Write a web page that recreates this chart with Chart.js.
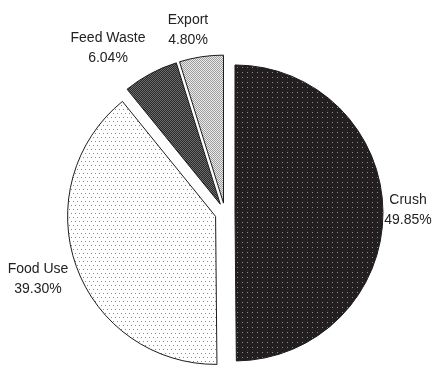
<!DOCTYPE html>
<html lang="en">
<head>
  <meta charset="UTF-8">
  <title>Usage pie</title>
  <script src="https://cdn.jsdelivr.net/npm/chart.js"></script>
  <style>
    html, body { margin: 0; padding: 0; background: #fff; }
    #wrap { width: 436px; height: 365px; }
  </style>
</head>
<body>
  <div id="wrap"><canvas id="pieChart" width="436" height="365"></canvas></div>

  <script>
    // data
    const categories = ['Crush', 'Food Use', 'Feed Waste', 'Export'];
    const shares = [49.85, 39.30, 6.04, 4.80];

    // label boxes, relative to the pie centre (x, y of first line)
    const labelOffsets = [
      [183, -13], [-187, 56], [-117, -175], [-37, -193]
    ];
    const explode = 10;

    function makePattern(size, bg, dots, dotColor) {
      const c = document.createElement('canvas');
      c.width = size; c.height = size;
      const g = c.getContext('2d');
      g.fillStyle = bg;
      g.fillRect(0, 0, size, size);
      g.fillStyle = dotColor;
      dots.forEach(d => g.fillRect(d[0], d[1], 1, 1));
      return g.createPattern(c, 'repeat');
    }

    const ctx = document.getElementById('pieChart').getContext('2d');

    const fills = [
      makePattern(5, '#231f20', [[2, 2]], '#8c8c8c'),
      makePattern(8, '#ffffff', [[1, 1], [5, 1], [3, 5], [7, 5]], '#8a8a8a'),
      makePattern(2, '#2b2b2b', [[0, 0], [1, 1]], '#6a6a6a'),
      makePattern(2, '#ececec', [[0, 0], [1, 1]], '#9c9c9c')
    ];

    // push every slice outward a little
    const explodePlugin = {
      id: 'explode',
      afterDatasetsUpdate(chart) {
        chart.getDatasetMeta(0).data.forEach(arc => {
          const half = (arc.startAngle + arc.endAngle) / 2;
          arc.x += Math.cos(half) * explode;
          arc.y += Math.sin(half) * explode;
        });
      }
    };

    const labelPlugin = {
      id: 'sliceLabels',
      afterDraw(chart) {
        const a = chart.chartArea;
        const cx = (a.left + a.right) / 2;
        const cy = (a.top + a.bottom) / 2;
        const c = chart.ctx;
        c.save();
        c.font = '14px "Liberation Sans", Arial, sans-serif';
        c.fillStyle = '#222';
        c.textAlign = 'center';
        c.textBaseline = 'middle';
        categories.forEach((name, i) => {
          const [dx, dy] = labelOffsets[i];
          c.fillText(name, cx + dx, cy + dy);
          c.fillText(shares[i].toFixed(2) + '%', cx + dx, cy + dy + 20);
        });
        c.restore();
      }
    };

    new Chart(ctx, {
      type: 'pie',
      data: {
        labels: categories,
        datasets: [{
          data: shares,
          backgroundColor: fills,
          borderColor: '#1c1c1c',
          borderWidth: 1
        }]
      },
      options: {
        responsive: false,
        animation: false,
        radius: 148,
        layout: { padding: { left: 14, top: 61, right: 0, bottom: 0 } },
        plugins: {
          legend: { display: false },
          tooltip: { enabled: false }
        },
        events: []
      },
      plugins: [explodePlugin, labelPlugin]
    });
  </script>
</body>
</html>
